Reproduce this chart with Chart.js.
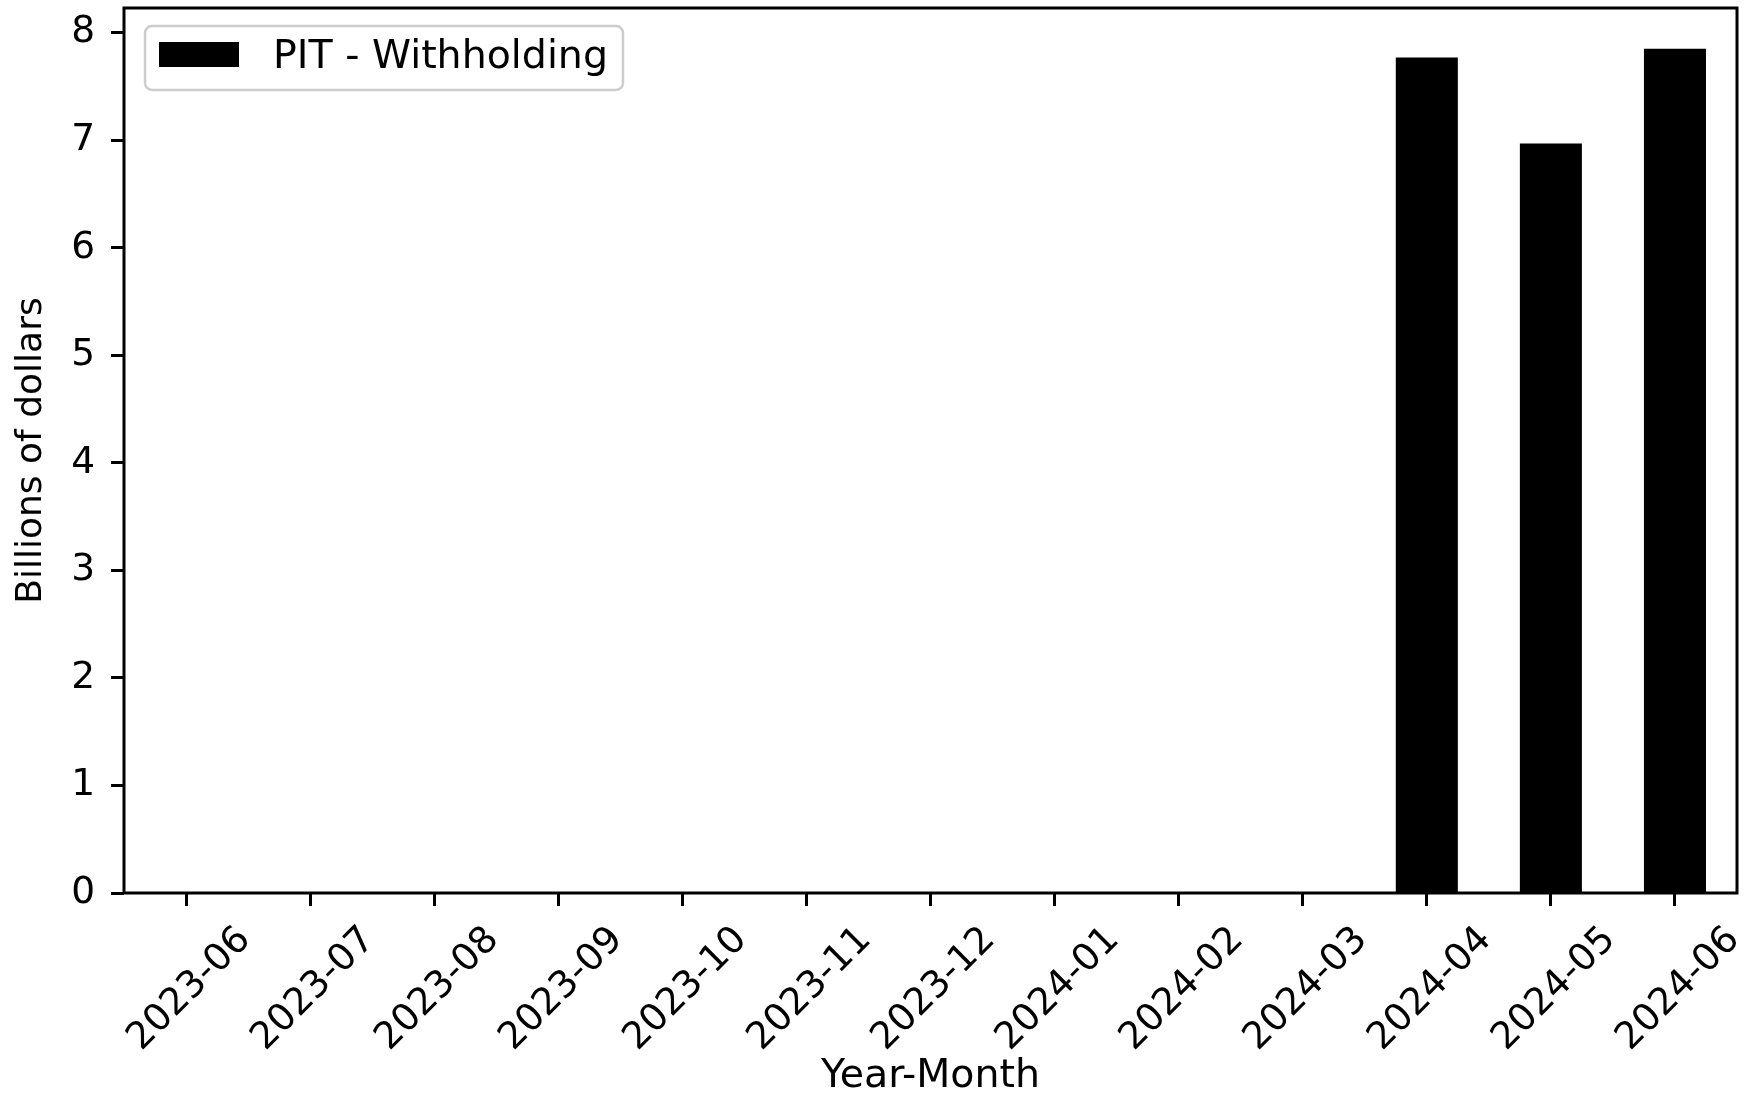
<!DOCTYPE html>
<html>
<head>
<meta charset="utf-8">
<script src="https://cdn.jsdelivr.net/npm/chart.js@4/dist/chart.umd.min.js"></script>
<style>
  html, body { margin: 0; padding: 0; background: #fff; }
  #wrap { width: 1747px; height: 1096px; }
</style>
</head>
<body>
<div id="wrap"><canvas id="chart" width="1747" height="1096"></canvas></div>
<script>
// months on the x axis
const months = ['2023-06', '2023-07', '2023-08', '2023-09', '2023-10', '2023-11', '2023-12',
                '2024-01', '2024-02', '2024-03', '2024-04', '2024-05', '2024-06'];
// billions of dollars, no bar for the empty months
const withholding = [null, null, null, null, null, null, null, null, null, null, 7.77, 6.97, 7.85];
const yTicks = [0, 1, 2, 3, 4, 5, 6, 7, 8];
const yMax = 8.23;

const FONT = 'DejaVu Sans';
const TICK_FS = 37.5;
const LABEL_FS = 39.5;

// matplotlib style box around the plot area
const spines = {
    id: 'spines',
    afterDatasetsDraw(chart) {
        const { ctx, chartArea: a } = chart;
        ctx.save();
        ctx.strokeStyle = '#000';
        ctx.lineWidth = 3;
        ctx.strokeRect(a.left, a.top, a.right - a.left, a.bottom - a.top);
        ctx.restore();
    }
};

// legend drawn inside the axes, upper left, with a rounded frame
const innerLegend = {
    id: 'innerLegend',
    afterDraw(chart) {
        const { ctx, chartArea: a } = chart;
        const ds = chart.data.datasets[0];
        const x = a.left + 21, y = a.top + 18, w = 478, h = 64;
        ctx.save();
        ctx.beginPath();
        ctx.roundRect(x, y, w, h, 7);
        ctx.fillStyle = 'rgba(255,255,255,0.8)';
        ctx.fill();
        ctx.lineWidth = 2.5;
        ctx.strokeStyle = '#cccccc';
        ctx.stroke();
        ctx.fillStyle = ds.backgroundColor;
        ctx.fillRect(x + 14, y + 16, 80, 25);
        ctx.font = LABEL_FS + 'px "' + FONT + '"';
        ctx.textBaseline = 'alphabetic';
        ctx.fillStyle = '#000';
        ctx.fillText(ds.label, x + 128, y + 42);
        ctx.restore();
    }
};

new Chart(document.getElementById('chart'), {
    type: 'bar',
    data: {
        labels: months,
        datasets: [{
            label: 'PIT - Withholding',
            data: withholding,
            backgroundColor: '#000000',
            borderWidth: 0,
            barPercentage: 0.5,
            categoryPercentage: 1.0
        }]
    },
    options: {
        responsive: false,
        animation: false,
        devicePixelRatio: 1,
        layout: { padding: { top: 8, right: 10, left: 0, bottom: 0 } },
        plugins: {
            legend: { display: false },
            tooltip: { enabled: false }
        },
        scales: {
            x: {
                afterFit(scale) {
                    scale.height = 203;
                    scale.paddingLeft = 0;
                    scale.paddingRight = 0;
                },
                border: { display: false },
                grid: {
                    offset: false,
                    drawOnChartArea: false,
                    drawTicks: true,
                    tickLength: 13,
                    tickWidth: 3,
                    tickColor: '#000'
                },
                ticks: {
                    autoSkip: false,
                    minRotation: 45,
                    maxRotation: 45,
                    labelOffset: 59,
                    padding: 12,
                    color: '#000',
                    font: { family: FONT, size: TICK_FS }
                },
                title: {
                    display: true,
                    text: 'Year-Month',
                    color: '#000',
                    padding: { top: 0, bottom: 0 },
                    font: { family: FONT, size: LABEL_FS, lineHeight: 1 }
                }
            },
            y: {
                min: 0,
                max: yMax,
                afterFit(scale) {
                    scale.width = 124;
                    scale.paddingTop = 0;
                    scale.paddingBottom = 0;
                },
                afterBuildTicks(axis) { axis.ticks = yTicks.map(v => ({ value: v })); },
                border: { display: false },
                grid: {
                    drawOnChartArea: false,
                    drawTicks: true,
                    tickLength: 13,
                    tickWidth: 3,
                    tickColor: '#000'
                },
                ticks: {
                    padding: 16,
                    color: '#000',
                    font: { family: FONT, size: TICK_FS }
                },
                title: {
                    display: true,
                    text: 'Billions of dollars',
                    color: '#000',
                    padding: { top: 10, bottom: 0 },
                    font: { family: FONT, size: 36 }
                }
            }
        }
    },
    plugins: [spines, innerLegend]
});
</script>
</body>
</html>
